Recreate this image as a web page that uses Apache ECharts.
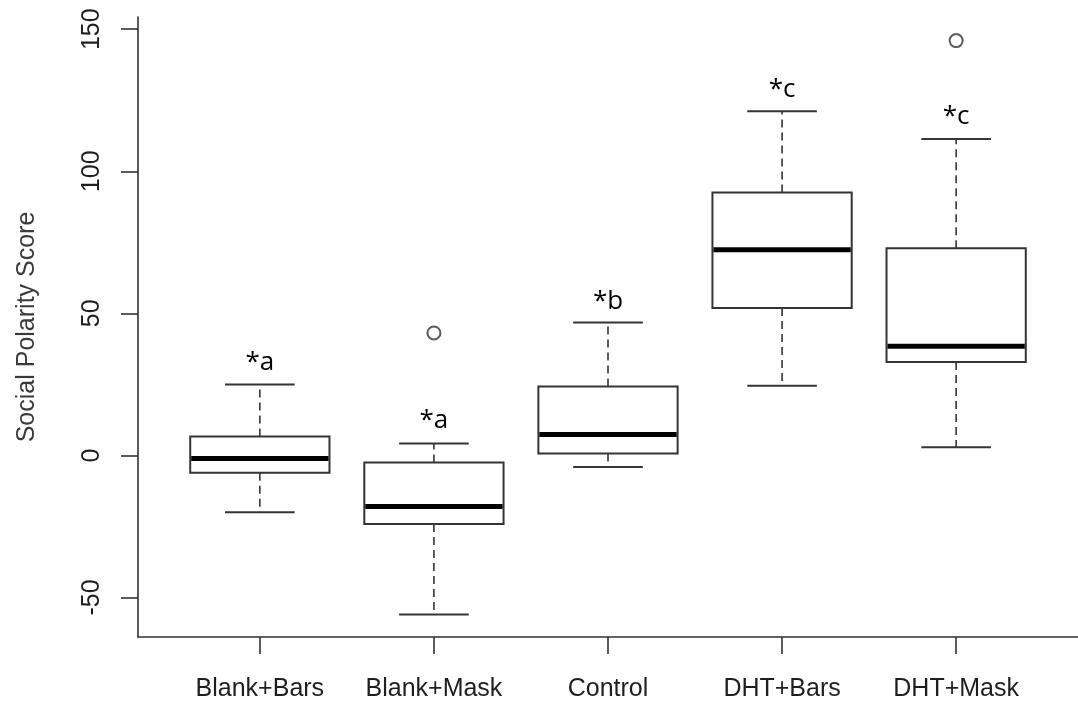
<!DOCTYPE html>
<html>
<head>
<meta charset="utf-8">
<script src="https://cdn.jsdelivr.net/npm/echarts@6/dist/echarts.min.js"></script>
<style>
  html, body { margin: 0; padding: 0; background: #ffffff; }
  #chart { width: 1078px; height: 705px; }
</style>
</head>
<body>
<div id="chart"></div>
<script>
// Five treatment groups and their box-and-whisker summaries
const categories = ['Blank+Bars', 'Blank+Mask', 'Control', 'DHT+Bars', 'DHT+Mask'];
const lowerWhisker = [-20.0, -56.0, -4.1, 24.5, 2.9];
const lowerQuartile = [-6.1, -24.1, 0.7, 51.9, 32.9];
const medians = [-1.1, -18.0, 7.4, 72.4, 38.4];
const upperQuartile = [6.7, -2.5, 24.3, 92.5, 72.9];
const upperWhisker = [25.0, 4.2, 46.8, 121.1, 111.4];

// Outlying observations: [group position (1-based), score]
const outlierGroups = [2, 5];
const outlierValues = [43.1, 146.0];

// Significance letters and the score level where each is written
const groupLetters = ['*a', '*a', '*b', '*c', '*c'];
const letterLevels = [32.6, 12.1, 54.3, 128.9, 119.3];

const yTicks = [-50, 0, 50, 100, 150];
const xPositions = categories.map((c, i) => i + 1);

const boxData = categories.map((c, i) => [
  i + 1, lowerWhisker[i], lowerQuartile[i], medians[i], upperQuartile[i], upperWhisker[i]
]);
const outlierData = outlierGroups.map((g, i) => [g, outlierValues[i]]);
const letterData = categories.map((c, i) => [i + 1, letterLevels[i], groupLetters[i]]);

const BOX_HALF = 0.4;      // half box width, in group units
const STAPLE_HALF = 0.2;   // half whisker-cap width
const edge = '#353535';

function renderBox(params, api) {
  const x = api.value(0);
  const lo = api.coord([x, api.value(1)]);
  const q1 = api.coord([x, api.value(2)]);
  const md = api.coord([x, api.value(3)]);
  const q3 = api.coord([x, api.value(4)]);
  const hi = api.coord([x, api.value(5)]);
  const left = api.coord([x - BOX_HALF, 0])[0];
  const right = api.coord([x + BOX_HALF, 0])[0];
  const sLeft = api.coord([x - STAPLE_HALF, 0])[0];
  const sRight = api.coord([x + STAPLE_HALF, 0])[0];
  const cx = lo[0];
  const dashed = { stroke: edge, lineWidth: 1.6, lineDash: [8, 5] };
  const solid = { stroke: edge, lineWidth: 2 };
  return {
    type: 'group',
    children: [
      { type: 'line', shape: { x1: cx, y1: q3[1], x2: cx, y2: hi[1] }, style: dashed },
      { type: 'line', shape: { x1: cx, y1: q1[1], x2: cx, y2: lo[1] }, style: dashed },
      { type: 'line', shape: { x1: sLeft, y1: hi[1], x2: sRight, y2: hi[1] }, style: solid },
      { type: 'line', shape: { x1: sLeft, y1: lo[1], x2: sRight, y2: lo[1] }, style: solid },
      { type: 'rect', shape: { x: left, y: q3[1], width: right - left, height: q1[1] - q3[1] },
        style: { fill: '#ffffff', stroke: edge, lineWidth: 2 } },
      { type: 'line', shape: { x1: left + 1, y1: md[1], x2: right - 1, y2: md[1] },
        style: { stroke: '#000000', lineWidth: 5 } }
    ]
  };
}

function renderLetter(params, api) {
  const p = api.coord([api.value(0), api.value(1)]);
  return {
    type: 'text',
    x: p[0],
    y: p[1],
    style: {
      text: groupLetters[params.dataIndex],
      font: '26px "Open Sans", sans-serif',
      fill: '#000000',
      textAlign: 'center',
      textVerticalAlign: 'middle'
    }
  };
}

const axisFont = '"Liberation Sans", Arial, sans-serif';

const chart = echarts.init(document.getElementById('chart'), null, { renderer: 'canvas' });
chart.setOption({
  animation: false,
  backgroundColor: '#ffffff',
  grid: { left: 138, top: 17, width: 945, height: 620 },
  xAxis: {
    type: 'value',
    min: 0.3,
    max: 5.7,
    splitLine: { show: false },
    axisLine: { show: true, onZero: false, lineStyle: { color: '#333333', width: 1.6 } },
    axisTick: { show: true, customValues: xPositions, length: 17, lineStyle: { color: '#333333', width: 1.6 } },
    axisLabel: {
      show: true,
      customValues: xPositions,
      formatter: v => categories[Math.round(v) - 1],
      margin: 40,
      fontSize: 25,
      fontFamily: axisFont,
      color: '#1e1e1e'
    }
  },
  yAxis: {
    type: 'value',
    min: -63.9,
    max: 154.3,
    name: 'Social Polarity Score',
    nameLocation: 'middle',
    nameGap: 98,
    nameTextStyle: { fontSize: 25, fontFamily: axisFont, color: '#3a3a3a' },
    splitLine: { show: false },
    axisLine: { show: true, onZero: false, lineStyle: { color: '#333333', width: 1.6 } },
    axisTick: { show: true, customValues: yTicks, length: 17, lineStyle: { color: '#333333', width: 1.6 } },
    axisLabel: {
      show: true,
      customValues: yTicks,
      rotate: 90,
      margin: 33,
      fontSize: 25,
      fontFamily: axisFont,
      color: '#1e1e1e'
    }
  },
  series: [
    {
      type: 'custom',
      renderItem: renderBox,
      data: boxData,
      encode: { x: 0, y: [1, 2, 3, 4, 5] },
      z: 2
    },
    {
      type: 'scatter',
      data: outlierData,
      symbol: 'circle',
      symbolSize: 13,
      itemStyle: { color: '#ffffff', borderColor: '#333333', borderWidth: 2 },
      z: 3
    },
    {
      type: 'custom',
      renderItem: renderLetter,
      data: letterData,
      encode: { x: 0, y: 1 },
      z: 4
    }
  ]
});
</script>
</body>
</html>
